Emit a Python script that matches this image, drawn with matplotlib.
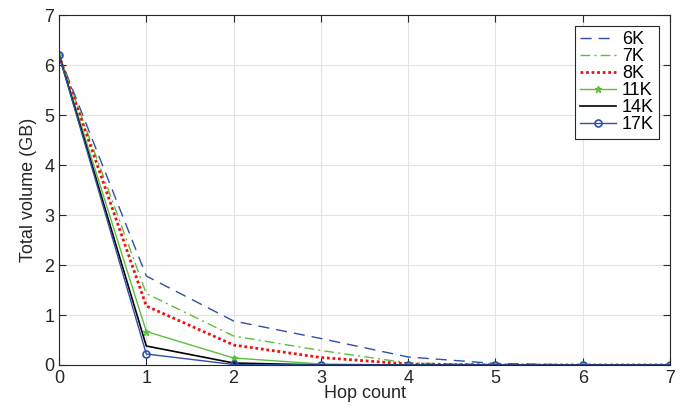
import matplotlib
matplotlib.use('Agg')
import matplotlib.pyplot as plt

plt.rcParams['font.family'] = ['Liberation Sans', 'DejaVu Sans']

# data
hops = [0, 1, 2, 3, 4, 5, 6, 7]
v_6k = [6.2, 1.78, 0.88, 0.53, 0.16, 0.03, 0.0, 0.0]
v_7k = [6.2, 1.43, 0.58, 0.29, 0.04, 0.01, 0.0, 0.0]
v_8k = [6.2, 1.18, 0.40, 0.15, 0.02, 0.0, 0.0, 0.0]
v_11k = [6.2, 0.67, 0.14, 0.02, 0.0, 0.0, 0.0, 0.0]
v_14k = [6.2, 0.38, 0.04, 0.0, 0.0, 0.0, 0.0, 0.0]
v_17k = [6.2, 0.22, 0.01, 0.0, 0.0, 0.0, 0.0, 0.0]

fig = plt.figure(figsize=(6.83, 4.07), dpi=100)
ax = fig.add_axes([0.0864, 0.1032, 0.8946, 0.8598])

blue = '#3050a8'
green = '#5cbf3a'
ax.plot(hops, v_6k, color=blue, linestyle=(0, (8, 5)), lw=1.0, label='6K')
ax.plot(hops, v_7k, color=green, linestyle=(0, (7, 3, 1.5, 3)), lw=1.0, label='7K')
ax.plot(hops, v_8k, color='#ee1111', linestyle=(0, (1, 1)), lw=2.0, label='8K')
ax.plot(hops, v_11k, color=green, linestyle='-', lw=1.0, marker='*', ms=5, label='11K')
ax.plot(hops, v_14k, color='black', linestyle='-', lw=1.2, label='14K')
ax.plot(hops, v_17k, color=blue, linestyle='-', lw=1.0, marker='o', ms=5,
        mfc='none', mew=1.2, label='17K')

ax.set_xlim(0, 7)
ax.set_ylim(0, 7)
ax.set_xticks(range(8))
ax.set_yticks(range(8))
ax.grid(True, color='#e3e3e3', lw=0.8)
ax.set_axisbelow(True)
ax.tick_params(direction='in', labelsize=13, colors='#262626', length=5, top=True, right=True)
for s in ax.spines.values():
    s.set_color('#262626')
    s.set_linewidth(0.8)

ax.set_xlabel('Hop count', fontsize=13, labelpad=-1, color='#262626')
ax.set_ylabel('Total volume (GB)', fontsize=13, labelpad=5, color='#262626')

leg = ax.legend(loc='upper right', fontsize=13, handlelength=2.0, handletextpad=0.3,
                labelspacing=0.0, borderpad=0.3, fancybox=False, framealpha=1,
                edgecolor='#262626', borderaxespad=0.6)
leg.get_frame().set_linewidth(0.8)

fig.savefig('out.png', dpi=100)
